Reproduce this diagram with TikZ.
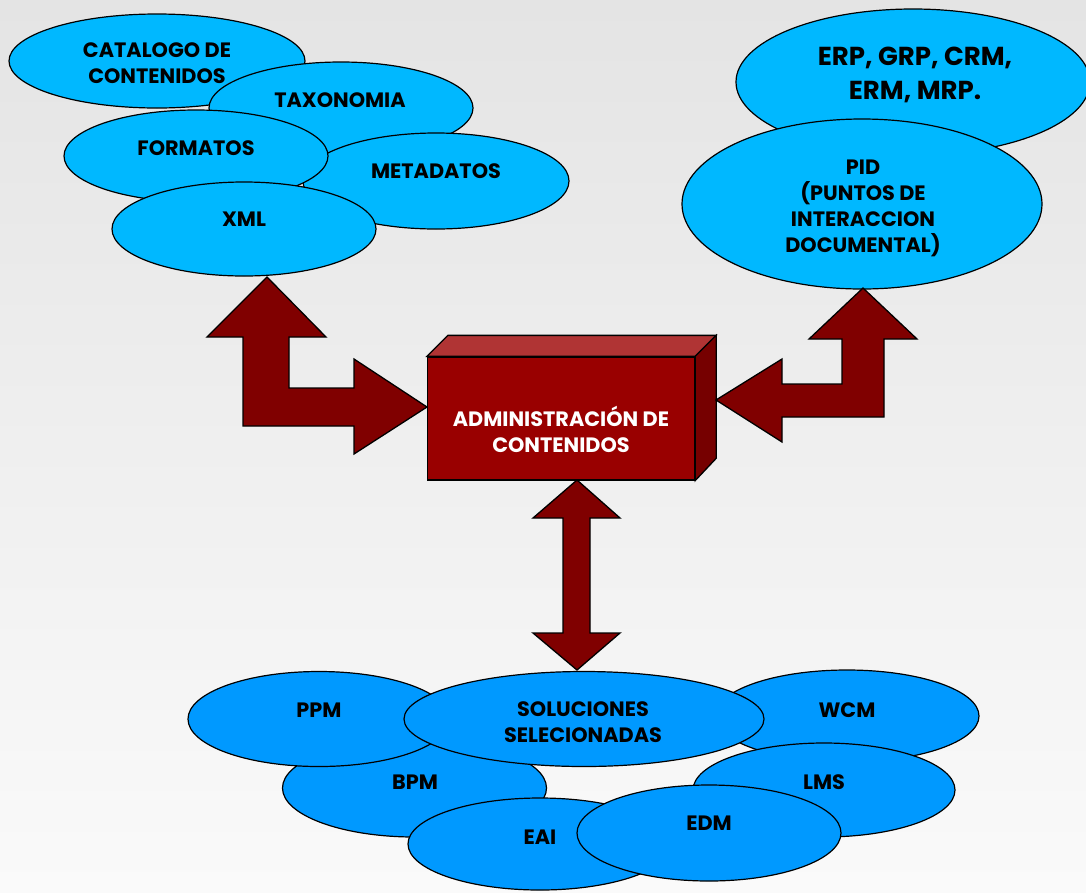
\documentclass[tikz,border=0pt]{standalone}
\usepackage{fontspec}
\setmainfont{Poppins}
\usetikzlibrary{shapes.geometric}
\definecolor{skyA}{RGB}{0,184,255}
\definecolor{skyB}{RGB}{0,153,255}
\definecolor{arrowred}{RGB}{128,0,0}
\definecolor{boxfront}{RGB}{153,0,0}
\definecolor{boxtop}{RGB}{176,52,52}
\definecolor{boxside}{RGB}{118,0,0}
\definecolor{bgtop}{RGB}{228,228,228}
\definecolor{bgbot}{RGB}{250,250,250}
\begin{document}
\begin{tikzpicture}[x=1pt,y=-1pt,
  ellA/.style={ellipse, draw=black, line width=1.2pt, fill=skyA, inner sep=0pt},
  ellB/.style={ellipse, draw=black, line width=1.2pt, fill=skyB, inner sep=0pt},
  lbl/.style={font=\bfseries\fontsize{20.8}{26}\selectfont, align=center, text=black, inner sep=0pt},
  biglbl/.style={font=\bfseries\fontsize{26}{34}\selectfont, align=center, text=black, inner sep=0pt},
  blockarrow/.style={fill=arrowred, draw=black, line width=1.3pt, line join=miter},
  facebox/.style={draw=black, line width=1.3pt, line join=miter},
]
\useasboundingbox (0,0) rectangle (1086,892);
\shade[top color=bgtop, bottom color=bgbot] (0,0) rectangle (1086,892);

% top-left group
\node[ellA, minimum width=296, minimum height=94] (cat) at (157,61) {};
\node[lbl] (catl) at (157,63.5) {CATALOGO DE\\CONTENIDOS};
\node[ellA, minimum width=264, minimum height=92] (tax) at (341,108) {};
\node[lbl] (taxl) at (340,100) {TAXONOMIA};
\node[ellA, minimum width=266, minimum height=96] (meta) at (436,181) {};
\node[lbl] (metal) at (436,171) {METADATOS};
\node[ellA, minimum width=264, minimum height=92] (form) at (196,156) {};
\node[lbl] (forml) at (196,148) {FORMATOS};
\node[ellA, minimum width=264, minimum height=94] (xml) at (244,229) {};
\node[lbl] (xmll) at (244,219) {XML};

% top-right group
\node[ellA, minimum width=354, minimum height=146] (erp) at (913,82) {};
\node[biglbl] (erpl) at (915,75) {ERP, GRP, CRM,\\ERM, MRP.};
\node[ellA, minimum width=360, minimum height=170] (pid) at (862,204) {};
\node[lbl] (pidl) at (863,208) {PID\\(PUNTOS DE\\INTERACCION\\DOCUMENTAL)};

% central box
\node[facebox, fill=boxfront, minimum width=267, minimum height=123, inner sep=0pt] (adm) at (561,418.5) {};
\fill[boxtop, facebox] (adm.north west) -- ++(21,-21) -- ([xshift=21pt,yshift=21pt]adm.north east) -- (adm.north east) -- cycle;
\fill[boxside, facebox] (adm.north east) -- ++(21,-21) -- ++(0,123) -- (adm.south east) -- cycle;
\node[lbl, text=white] (adml) at (561,429.5) {ADMINISTRACIÓN DE\\CONTENIDOS};

% block arrows
\draw[blockarrow] (267,277) -- (326,337) -- (289,337) -- (289,388) -- (354,388) -- (354,359)
  -- (427,407) -- (354,454) -- (354,426) -- (243,426) -- (243,337) -- (207,337) -- cycle;
\draw[blockarrow] (863,288) -- (917,339) -- (884,339) -- (884,417) -- (782,417) -- (782,442)
  -- (716,400) -- (782,359) -- (782,384) -- (842,384) -- (842,339) -- (809,339) -- cycle;
\draw[blockarrow] (577,480) -- (620,518) -- (590,518) -- (590,633) -- (620,633) -- (577,670)
  -- (533,633) -- (563,633) -- (563,518) -- (533,518) -- cycle;

% bottom group
\node[ellB, minimum width=264, minimum height=98] (bpm) at (414.5,788) {};
\node[lbl] (bpml) at (415,782) {BPM};
\node[ellB, minimum width=262, minimum height=95] (ppm) at (319,719) {};
\node[lbl] (ppml) at (319,710) {PPM};
\node[ellB, minimum width=264, minimum height=92] (wcm) at (847,716) {};
\node[lbl] (wcml) at (847,710) {WCM};
\node[ellB, minimum width=262, minimum height=94] (lms) at (824,790) {};
\node[lbl] (lmsl) at (824,782) {LMS};
\node[ellB, minimum width=360, minimum height=95] (sol) at (584,719) {};
\node[lbl] (soll) at (583,722) {SOLUCIONES\\SELECIONADAS};
\node[ellB, minimum width=264, minimum height=92] (eai) at (540,844) {};
\node[lbl] (eail) at (540,837) {EAI};
\node[ellB, minimum width=264, minimum height=96] (edm) at (709,833) {};
\node[lbl] (edml) at (709,823) {EDM};
\end{tikzpicture}
\end{document}
